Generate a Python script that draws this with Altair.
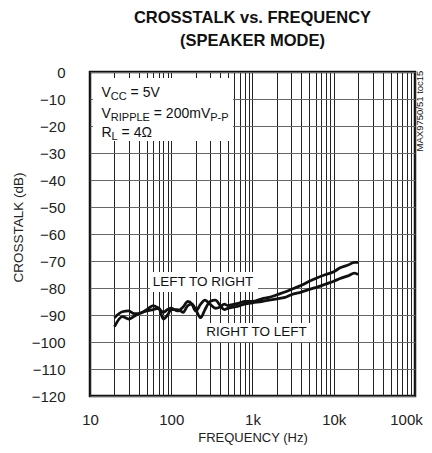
import altair as alt
import pandas as pd

# ---------------- data ----------------
freq_hz = [20, 25, 30, 35, 40, 50, 60, 70, 80, 90, 100, 120, 140, 160, 180, 200, 230, 260,
           300, 350, 400, 450, 500, 600, 700, 800, 1000, 1300, 1600, 2000, 2500, 3000,
           4000, 5000, 6500, 8000, 10000, 12000, 15000, 18000, 20000]
left_to_right_db = [-91, -88.8, -88.5, -89.5, -89.5, -88, -86.5, -87.5, -89, -88, -87.5, -88.5,
                    -87, -85, -86, -88.5, -86, -84.5, -86, -87.5, -87, -86, -86.5, -86, -85.5,
                    -85, -85, -84, -83.5, -82.5, -81.5, -80.5, -79, -77.5, -76, -75, -74,
                    -72.5, -71.5, -70.5, -70.5]
right_to_left_db = [-94.3, -90.6, -91.5, -90.5, -89.5, -88.5, -88, -87.5, -91.5, -90, -88, -88,
                    -89, -86.5, -86, -88, -91, -88, -85, -84.5, -86.5, -88, -87.5, -87, -86.5,
                    -86, -85.5, -85, -84.5, -84, -83.5, -82.5, -81.5, -80.5, -79.5, -78.5,
                    -77.5, -76.5, -75.5, -74.5, -75]
series_names = ["LEFT TO RIGHT", "RIGHT TO LEFT"]

y_ticks = list(range(-120, 1, 10))
x_grid = [m * 10 ** e for e in range(1, 5) for m in range(1, 10)] + [100000]
x_tick_labels = {10: "10", 100: "100", 1000: "1k", 10000: "10k", 100000: "100k"}

df = pd.DataFrame({
    "freq": freq_hz * 2,
    "db": left_to_right_db + right_to_left_db,
    "series": [series_names[0]] * len(freq_hz) + [series_names[1]] * len(freq_hz),
})

FONT = "Liberation Sans, Arial, sans-serif"
label_expr = " : ".join(f"datum.value == {k} ? '{v}'" for k, v in x_tick_labels.items()) + " : ''"

W, H = 325, 324

x_enc = alt.X("freq:Q",
              scale=alt.Scale(type="log", domain=[10, 100000], nice=False),
              axis=alt.Axis(values=x_grid, labelExpr=label_expr, ticks=False, domain=False,
                            grid=True, gridColor="#222", gridWidth=1, labelFont=FONT,
                            labelFontSize=15, labelColor="#222", labelPadding=16,
                            labelOffset={"condition": {"test": "datum.value == 100000",
                                                       "value": -9}, "value": 0},
                            labelOverlap=False, labelFlush=False, title="FREQUENCY (Hz)",
                            titleFont=FONT, titleFontSize=13, titleFontWeight="normal",
                            titleColor="#222", titlePadding=4))
y_enc = alt.Y("db:Q",
              scale=alt.Scale(domain=[-120, 0], nice=False, zero=False),
              axis=alt.Axis(values=y_ticks, ticks=False, domain=False, grid=True,
                            gridColor="#666", gridWidth=1, labelFont=FONT, labelFontSize=15,
                            labelColor="#222", labelPadding=25, title="CROSSTALK (dB)",
                            titleFont=FONT, titleFontSize=13.5, titleFontWeight="normal",
                            titleColor="#222", titleX=-72, titleY=155, titleAngle=-90,
                            titleAlign="center", titleBaseline="middle"))

lines = alt.Chart(df).mark_line(color="#111", strokeWidth=2.8, interpolate="monotone").encode(
    x=x_enc, y=y_enc, detail="series:N")

one = alt.Data(values=[{"k": 1}])


def box(x1, x2, y1, y2):
    return alt.Chart(one).mark_rect(color="white").encode(
        x=alt.value(x1), x2=alt.value(x2), y=alt.value(y1), y2=alt.value(y2))


def txt(s, x, y, size=14, align="left", baseline="alphabetic", angle=0):
    return alt.Chart(one).mark_text(text=s, align=align, baseline=baseline, fontSize=size,
                                    font=FONT, color="#111", angle=angle).encode(
        x=alt.value(x), y=alt.value(y))


annot = [
    box(3, 143, 6, 69),
    txt("V", 11.5, 25), txt("CC", 20.8, 28, size=11), txt("= 5V", 40.6, 25),
    txt("V", 11.5, 46), txt("RIPPLE", 20.8, 49, size=11), txt("= 200mV", 63.8, 46),
    txt("P-P", 120.2, 49, size=11),
    txt("R", 11.5, 65), txt("L", 21.6, 68, size=11), txt("= 4Ω", 31.6, 65),
    box(60, 168, 200, 220),
    txt(series_names[0], 113, 209.5, size=13.5, align="center", baseline="middle"),
    box(110, 222, 251, 270),
    txt(series_names[1], 166.5, 260, size=13.5, align="center", baseline="middle"),
    txt("MAX9750/51 toc15", 330, 39, size=9.5, align="center", baseline="middle", angle=270),
]

chart = alt.layer(lines, *annot).properties(
    width=W, height=H,
    title=alt.TitleParams(["CROSSTALK vs. FREQUENCY", "(SPEAKER MODE)"],
                          font=FONT, fontSize=16.5, fontWeight="bold", color="#111",
                          anchor="middle", lineHeight=23, offset=16),
    autosize=alt.AutoSizeParams(type="none"),
    padding={"left": 82, "top": 64, "right": 9, "bottom": 49},
).configure_view(stroke="#111", strokeWidth=2.5)

chart.save("out.html", embed_options={"renderer": "svg", "actions": False})
